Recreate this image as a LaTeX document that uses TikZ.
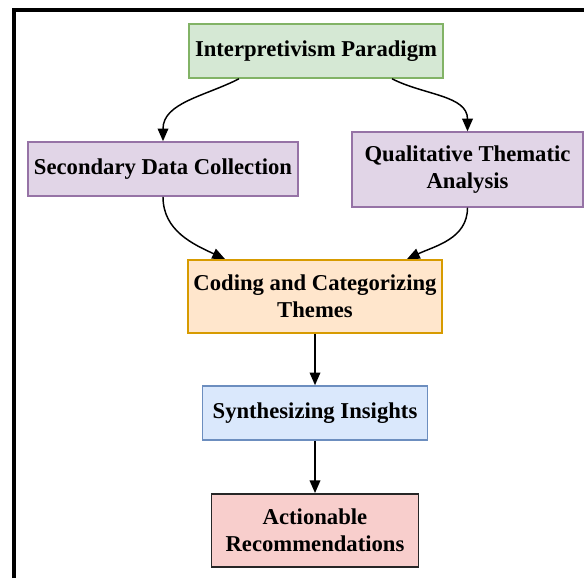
\documentclass[tikz,border=0pt]{standalone}
\usepackage{fontspec}
\setmainfont{Liberation Serif}
\usepackage{tikz}
\usetikzlibrary{calc, arrows.meta, positioning}

\definecolor{greenfill}{HTML}{D5E8D4}
\definecolor{greenline}{HTML}{82B366}
\definecolor{purplefill}{HTML}{E1D5E7}
\definecolor{purpleline}{HTML}{9673A6}
\definecolor{orangefill}{HTML}{FFE6CC}
\definecolor{orangeline}{HTML}{D79B00}
\definecolor{bluefill}{HTML}{DAE8FC}
\definecolor{blueline}{HTML}{6C8EBF}
\definecolor{redfill}{HTML}{F8CECC}
\definecolor{redline}{HTML}{262626}

\begin{document}
\begin{tikzpicture}[x=0.75pt,y=0.75pt,
    box/.style={draw, line width=1.2pt, align=center, inner sep=2pt,
        font=\fontsize{17}{20.5}\selectfont\bfseries},
    flow/.style={line width=1.1pt, -{Triangle[length=9.5pt,width=8pt]}}]
                \useasboundingbox (0,0) rectangle (584,578);
                \draw[line width=3.6pt] (14,0) -- (14,568) -- (584,568);
                \node[box, fill=greenfill, draw=greenline, minimum width=190.5pt, minimum height=40.5pt]
                    (paradigm) at (316,527) {Interpretivism Paradigm};
                \node[box, fill=purplefill, draw=purpleline, minimum width=202.5pt, minimum height=40.5pt]
                    (secondary) at (163,409) {Secondary Data Collection};
                \node[box, fill=purplefill, draw=purpleline, minimum width=173pt, minimum height=56pt]
                    (thematic) at (467.5,408.5) {Qualitative Thematic\\Analysis};
                \node[box, fill=orangefill, draw=orangeline, minimum width=190.5pt, minimum height=55pt]
                    (coding) at (315,281.5) {Coding and Categorizing\\Themes};
                \node[box, fill=bluefill, draw=blueline, minimum width=169pt, minimum height=40.5pt]
                    (insights) at (315,165) {Synthesizing Insights};
                \node[box, fill=redfill, draw=redline, minimum width=155pt, minimum height=55pt]
                    (actions) at (315,47.5) {Actionable\\Recommendations};
                \draw[flow] ($(paradigm.south)+(-77,0)$) to[out=207, in=90] (secondary.north);
                \draw[flow] ($(paradigm.south)+(76,0)$) to[out=-27, in=90] (thematic.north);
                \draw[flow] (secondary.south) to[out=-90, in=155] ($(coding.north)+(-90,0)$);
                \draw[flow] (thematic.south) to[out=-90, in=25] ($(coding.north)+(92,0)$);
                \draw[flow] (coding) -- (insights);
                \draw[flow] (insights) -- (actions);
            \end{tikzpicture}
\end{document}
